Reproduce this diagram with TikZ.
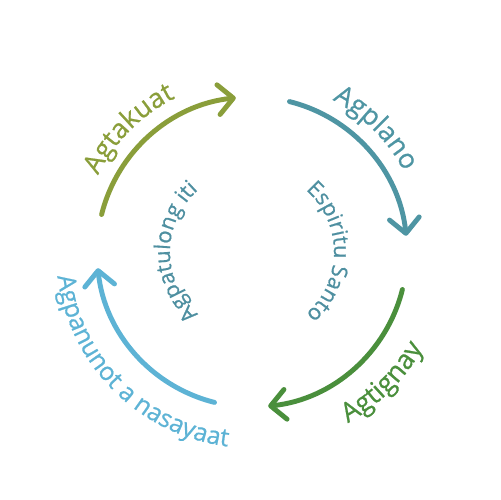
\documentclass[tikz,border=0pt]{standalone}
\usepackage{fontspec}
\setmainfont{Open Sans}
\newfontfamily\lblfont{Open Sans}[FakeBold=0.7]
\usetikzlibrary{decorations.text,arrows.meta}
\definecolor{cOlive}{HTML}{8A9E3A}
\definecolor{cTeal}{HTML}{4E95A3}
\definecolor{cGreen}{HTML}{4A8F3C}
\definecolor{cSky}{HTML}{5DB3D5}
\definecolor{cInner}{HTML}{4E8FA0}
\begin{document}
\begin{tikzpicture}[x=0.02cm,y=0.02cm,
  cyc/.style={line width=2.8pt, line cap=round, -{Straight Barb[round,length=8.5pt,width=17pt]}},
  lbl/.style n args={3}{decorate, decoration={text along path, text align=center, text color=#1,
     text={|\lblfont\fontsize{#3}{18}\selectfont|#2}}},
  ilbl/.style 2 args={decorate, decoration={text along path, text align=center, text color=#1,
     text={|\lblfont\fontsize{12.4}{14}\selectfont|#2}}}]
\useasboundingbox (0,0) rectangle (500,500);
\coordinate (C) at (252,248);
\begin{scope}[shift={(252,248)}]
  % arrows
  \draw[cyc, draw=cOlive] (166:155) arc[start angle=166, end angle=96, radius=155];
  \draw[cyc, draw=cTeal]  (76:155)  arc[start angle=76,  end angle=6,  radius=155];
  \draw[cyc, draw=cGreen] (-14:155) arc[start angle=-14, end angle=-84, radius=155];
  \draw[cyc, draw=cSky]   (-104:155) arc[start angle=-104, end angle=-174, radius=155];
  % outer labels
  \path[lbl={cOlive}{Agtakuat}{15.3}] (200:172) arc[start angle=200, end angle=70, radius=172];
  \path[lbl={cTeal}{Agplano}{15.3}] (110:172) arc[start angle=110, end angle=-20, radius=172];
  \path[lbl={cGreen}{Agtignay}{15.3}] (-110:196) arc[start angle=-110, end angle=20, radius=196];
  \path[lbl={cSky}{Agpanunot a nasayaat}{14.2}] (150:196) arc[start angle=150, end angle=300, radius=196];
  % inner labels
  \path[ilbl={cInner}{Agpatulong iti}] (250:82) arc[start angle=250, end angle=110, radius=82];
  \path[ilbl={cInner}{Espiritu Santo}] (70:82) arc[start angle=70, end angle=-70, radius=82];
\end{scope}
\end{tikzpicture}
\end{document}
